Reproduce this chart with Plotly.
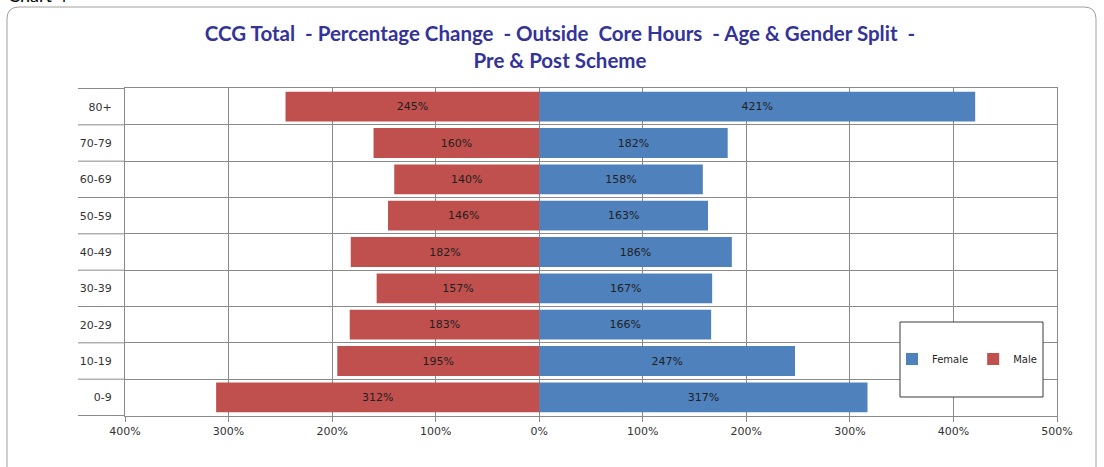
import plotly.graph_objects as go

categories = ["0-9", "10-19", "20-29", "30-39", "40-49", "50-59", "60-69", "70-79", "80+"]
female = [317, 247, 166, 167, 186, 163, 158, 182, 421]
male = [312, 195, 183, 157, 182, 146, 140, 160, 245]
tick_values = [-400, -300, -200, -100, 0, 100, 200, 300, 400, 500]
tick_labels = ["400%", "300%", "200%", "100%", "0%", "100%", "200%", "300%", "400%", "500%"]

W, H = 1104, 467
L, R, T, B = 125, 47, 88, 51
PW, PH = W - L - R, H - T - B

def px(x):
    return (x - L) / PW

def py(y):
    return (H - B - y) / PH

GRID = "#8a8a8a"
LABEL_FONT = dict(family="DejaVu Sans", size=11, color="#1f1f1f")

fig = go.Figure()
fig.add_trace(go.Bar(
    y=categories, x=female, orientation="h", name="Female",
    marker=dict(color="#4F81BD", line=dict(width=0)),
    text=[f"{v}%" for v in female], textposition="inside",
    insidetextanchor="middle", textfont=LABEL_FONT, width=0.82,
    constraintext="none",
))
fig.add_trace(go.Bar(
    y=categories, x=[-v for v in male], orientation="h", name="Male",
    marker=dict(color="#C0504D", line=dict(width=0)),
    text=[f"{v}%" for v in male], textposition="inside",
    insidetextanchor="middle", textfont=LABEL_FONT, width=0.82,
    constraintext="none",
))

shapes = []
# category boundary extensions to the left of the plot area
for i in range(len(categories) + 1):
    shapes.append(dict(type="line", xref="paper", yref="y",
                       x0=px(78), x1=0, y0=i - 0.5, y1=i - 0.5,
                       line=dict(color=GRID, width=1)))
# outer chart border with rounded top corners
path = (f"M {px(7)},{py(480)} L {px(7)},{py(19)} "
        f"Q {px(7)},{py(7)} {px(19)},{py(7)} "
        f"L {px(1084)},{py(7)} Q {px(1096)},{py(7)} {px(1096)},{py(19)} "
        f"L {px(1096)},{py(480)}")
shapes.append(dict(type="path", xref="paper", yref="paper", path=path,
                   line=dict(color="#A0A0A0", width=1)))
# legend box
shapes.append(dict(type="rect", xref="paper", yref="paper", layer="above",
                   x0=px(900), x1=px(1043), y0=py(397), y1=py(322),
                   fillcolor="white", line=dict(color="#3a3a3a", width=1)))

fig.update_layout(
    width=W, height=H,
    margin=dict(l=L, r=R, t=T, b=B, autoexpand=False),
    paper_bgcolor="white", plot_bgcolor="white",
    barmode="relative",
    showlegend=True,
    title=dict(
        text="CCG Total  - Percentage Change  - Outside  Core Hours  - Age & Gender Split  -<br>Pre & Post Scheme",
        x=560 / W, xanchor="center", y=1 - 41 / H, yanchor="middle",
        font=dict(family="Lato", size=20.5, color="#333399", weight="bold"),
    ),
    legend=dict(orientation="h", x=px(967), xanchor="center", y=py(359), yanchor="middle",
                bgcolor="rgba(0,0,0,0)", font=dict(family="DejaVu Sans", size=10, color="#1f1f1f"),
                itemwidth=30, tracegroupgap=0),
    xaxis=dict(range=[-400, 500], tickvals=tick_values, ticktext=tick_labels,
               showgrid=True, gridcolor=GRID, gridwidth=1, zeroline=False,
               ticks="outside", ticklen=5, tickcolor=GRID,
               showline=True, linecolor=GRID, linewidth=1, mirror=True,
               tickfont=dict(family="DejaVu Sans", size=11, color="#333333"), fixedrange=True),
    yaxis=dict(type="category", categoryorder="array", categoryarray=categories,
               tickson="boundaries", showgrid=True, gridcolor=GRID, gridwidth=1,
               ticks="", showline=True, linecolor=GRID, linewidth=1, mirror=True,
               zeroline=False, ticklabelstandoff=10,
               tickfont=dict(family="DejaVu Sans", size=11, color="#333333"), fixedrange=True),
    shapes=shapes,
    annotations=[dict(text="Chart 4", xref="paper", yref="paper", x=px(6), y=py(8),
                      xanchor="left", yanchor="bottom", showarrow=False,
                      font=dict(family="Lato", size=18, color="#000000"))],
)

fig.write_html("out.html", config={"displayModeBar": False},
               post_script="document.body.style.margin='0';")
